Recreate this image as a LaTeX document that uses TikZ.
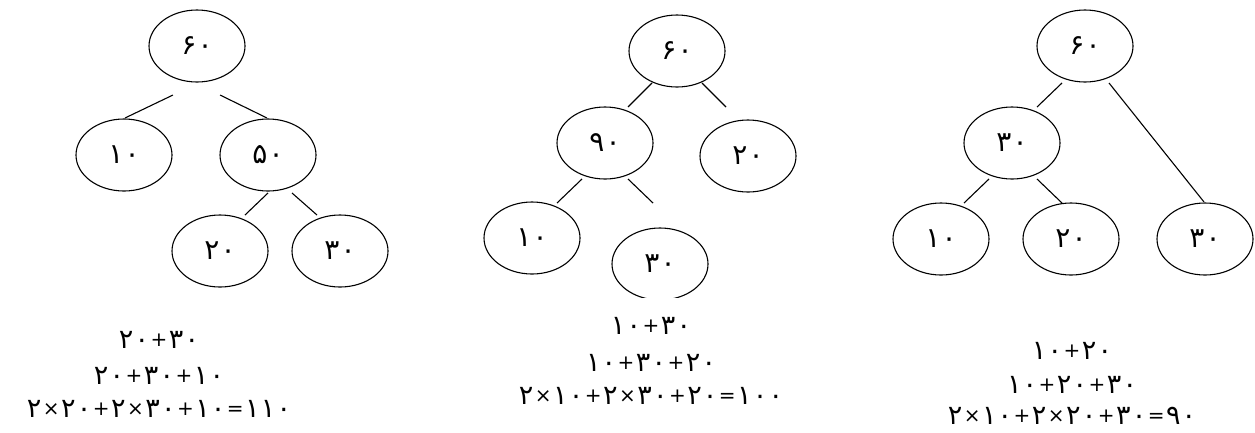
\documentclass[tikz,border=0pt]{standalone}
\usepackage{fontspec}
\usetikzlibrary{shapes.geometric}
\newfontfamily\pf[LetterSpace=4.3]{DejaVu Sans}
\newcommand\eqop[1]{\hspace{1.5pt}\raisebox{2pt}{\fontsize{20}{22}\selectfont #1}\hspace{1.5pt}}
\tikzset{
  nd/.style={draw, ellipse, line width=1.1pt, minimum width=96pt, minimum height=72pt, inner sep=0pt, font=\pf\fontsize{28}{30}\selectfont},
  ed/.style={line width=1.1pt},
  eq/.style={font=\pf\fontsize{27}{29}\selectfont, inner sep=0pt}
}
\begin{document}
\begin{tikzpicture}[x=1pt,y=-1pt]
\useasboundingbox (0,0) rectangle (1255,432);
% ---- tree 1 ----
\node[nd] (a60) at (197,46) {۶۰};
\node[nd] (a10) at (124,155) {۱۰};
\node[nd] (a50) at (268,155) {۵۰};
\node[nd] (a20) at (220,251) {۲۰};
\node[nd] (a30) at (340,251) {۳۰};
\coordinate (a1s) at (173,95); \coordinate (a1e) at (125,118);
\coordinate (a2s) at (220,95); \coordinate (a2e) at (267,118);
\coordinate (a3s) at (268,193); \coordinate (a3e) at (245,215);
\coordinate (a4s) at (292,193); \coordinate (a4e) at (317,215);
\draw[ed] (a1s) -- (a1e);
\draw[ed] (a2s) -- (a2e);
\draw[ed] (a3s) -- (a3e);
\draw[ed] (a4s) -- (a4e);
\node[eq] (at1) at (159,340) {۲۰\eqop{+}۳۰};
\node[eq] (at2) at (159,376) {۲۰\eqop{+}۳۰\eqop{+}۱۰};
\node[eq] (at3) at (159,409) {۲\eqop{×}۲۰\eqop{+}۲\eqop{×}۳۰\eqop{+}۱۰\eqop{=}۱۱۰};
% ---- tree 2 ----
\node[nd] (b60) at (677,51) {۶۰};
\node[nd] (b90) at (605,143) {۹۰};
\node[nd] (b20) at (748,156) {۲۰};
\node[nd] (b10) at (532,238) {۱۰};
\begin{scope}
\clip (600,220) rectangle (720,297);
\node[nd] (b30) at (660,264) {۳۰};
\end{scope}
\coordinate (b1s) at (652,83); \coordinate (b1e) at (628,107);
\coordinate (b2s) at (702,83); \coordinate (b2e) at (726,107);
\coordinate (b3s) at (582,179); \coordinate (b3e) at (557,203);
\coordinate (b4s) at (628,179); \coordinate (b4e) at (653,203);
\draw[ed] (b1s) -- (b1e);
\draw[ed] (b2s) -- (b2e);
\draw[ed] (b3s) -- (b3e);
\draw[ed] (b4s) -- (b4e);
\node[eq] (bt1) at (651,326) {۱۰\eqop{+}۳۰};
\node[eq] (bt2) at (651,363) {۱۰\eqop{+}۳۰\eqop{+}۲۰};
\node[eq] (bt3) at (651,396) {۲\eqop{×}۱۰\eqop{+}۲\eqop{×}۳۰\eqop{+}۲۰\eqop{=}۱۰۰};
% ---- tree 3 ----
\node[nd] (c60) at (1085,46) {۶۰};
\node[nd] (c30) at (1012,143) {۳۰};
\node[nd] (c10) at (941,239) {۱۰};
\node[nd] (c20) at (1071,239) {۲۰};
\node[nd] (c30r) at (1205,239) {۳۰};
\coordinate (c1s) at (1062,83); \coordinate (c1e) at (1037,107);
\coordinate (c2s) at (1109,83); \coordinate (c2e) at (1204,202);
\coordinate (c3s) at (989,179); \coordinate (c3e) at (964,203);
\coordinate (c4s) at (1037,179); \coordinate (c4e) at (1062,203);
\draw[ed] (c1s) -- (c1e);
\draw[ed] (c2s) -- (c2e);
\draw[ed] (c3s) -- (c3e);
\draw[ed] (c4s) -- (c4e);
\node[eq] (ct1) at (1072,351) {۱۰\eqop{+}۲۰};
\node[eq] (ct2) at (1072,385) {۱۰\eqop{+}۲۰\eqop{+}۳۰};
\node[eq] (ct3) at (1072,416) {۲\eqop{×}۱۰\eqop{+}۲\eqop{×}۲۰\eqop{+}۳۰\eqop{=}۹۰};
\end{tikzpicture}
\end{document}
